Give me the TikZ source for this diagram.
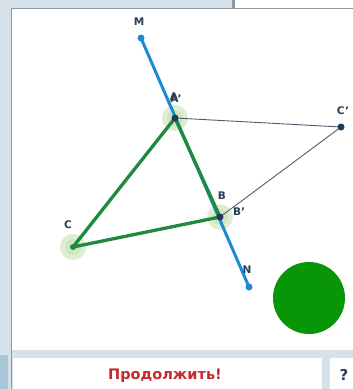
\documentclass[tikz,border=0pt]{standalone}
\usepackage{fontspec}
\setmainfont{DejaVu Sans}
\begin{document}
\begin{tikzpicture}[x=1pt,y=-1pt,
  lbl/.style={font=\bfseries\fontsize{10.5}{12}\selectfont, text=labc, inner sep=0pt},
  halo/.style={fill=haloc, fill opacity=0.55, draw=none},
  dotn/.style={circle, fill=dotc, inner sep=0pt, minimum size=7pt},
  dotb/.style={circle, fill=bluec, inner sep=0pt, minimum size=7pt},
  dotg/.style={circle, fill=greenc, inner sep=0pt, minimum size=6pt},
  tri/.style={draw=greenc, line width=3.3pt, line join=round},
  thin/.style={draw=thinc, line width=0.9pt},
  axis/.style={draw=bluec, line width=3pt},
]
\definecolor{bgc}{HTML}{D6E1E9}
\definecolor{borderc}{HTML}{8E9AA5}
\definecolor{labc}{HTML}{2B3E52}
\definecolor{haloc}{HTML}{C3E0B2}
\definecolor{dotc}{HTML}{1E3A57}
\definecolor{bluec}{HTML}{1B8BD3}
\definecolor{greenc}{HTML}{1E8A3E}
\definecolor{thinc}{HTML}{4E5E70}
\definecolor{bigc}{HTML}{089608}
\definecolor{redc}{HTML}{C42A2A}
\definecolor{sidec}{HTML}{A9C6D6}
\useasboundingbox (0,0) rectangle (353,389);
% background
\fill[bgc] (0,0) rectangle (353,389);
\fill[white] (235,0) rectangle (353,8);
\fill[borderc] (232,0) rectangle (235,8);
\fill[sidec] (0,355) rectangle (8,389);
% main panel
\fill[white] (12,9) rectangle (353,350);
\draw[borderc, line width=1pt] (12,8.5) -- (353,8.5);
\draw[borderc, line width=1.5pt] (11.5,8) -- (11.5,389);
% bottom panels
\fill[white] (13,358) rectangle (322,389);
\fill[white] (330,358) rectangle (353,389);
\node[font=\bfseries\fontsize{14.5}{16}\selectfont, text=redc] (go) at (165,376) {Продолжить!};
\node[font=\bfseries\fontsize{15}{17}\selectfont, text=labc] (help) at (344,375) {?};
% points
\coordinate (M) at (141,38);
\coordinate (N) at (249,287);
\coordinate (A) at (175,118);
\coordinate (B) at (220,217);
\coordinate (C) at (73,247);
\coordinate (Cp) at (341,127);
% halos
\fill[halo] (A) circle (13);
\fill[halo] (B) circle (13);
\fill[halo] (C) circle (13);
\fill[haloc, opacity=0.5] (A) circle (8);
\fill[haloc, opacity=0.5] (B) circle (8);
\fill[haloc, opacity=0.5] (C) circle (8);
% lines
\draw[axis] (M) -- (N);
\draw[thin] (A) -- (Cp) -- (B);
\draw[tri] (A) -- (B) -- (C) -- cycle;
% dots
\node[dotb] (Md) at (M) {};
\node[dotb] (Nd) at (N) {};
\node[dotn] (Ad) at (A) {};
\node[dotn] (Bd) at (B) {};
\node[dotn] (Cpd) at (Cp) {};
\node[dotg] (Cd) at (C) {};
% labels
\node[lbl] (lM) at (139,22) {M};
\node[lbl] (lN) at (247,270) {N};
\node[lbl] (lA) at (174,97) {A};
\node[lbl] (lAp) at (176,99) {A'};
\node[lbl] (lB) at (222,196) {B};
\node[lbl] (lBp) at (239,212) {B'};
\node[lbl] (lC) at (68,225) {C};
\node[lbl] (lCp) at (343,111) {C'};
% big circle
\fill[bigc] (309,298) circle (36);
\end{tikzpicture}
\end{document}
